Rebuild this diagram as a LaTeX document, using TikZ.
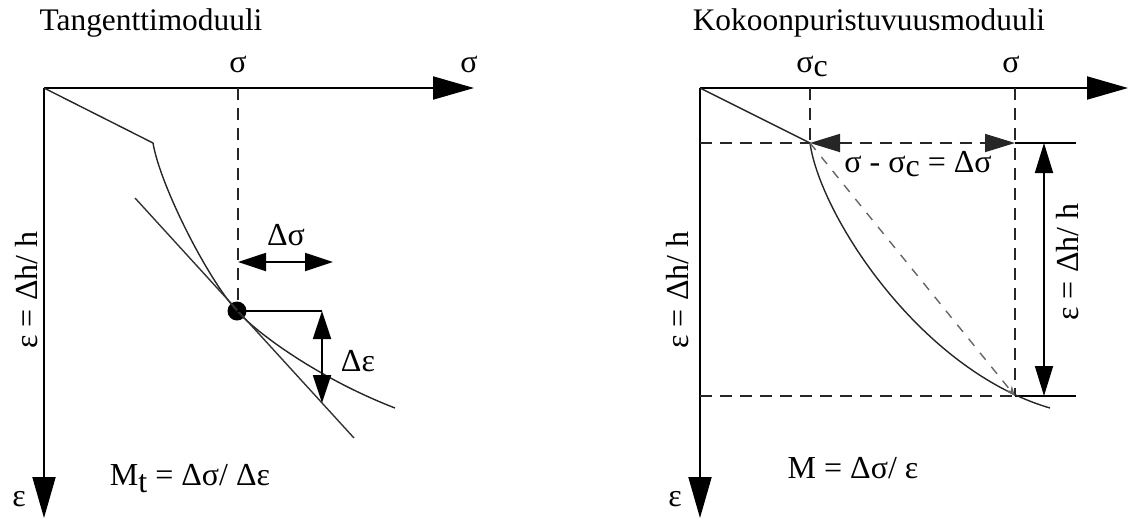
\documentclass[tikz,border=0pt]{standalone}
\usepackage{fontspec}
\setmainfont{Liberation Serif}
\usetikzlibrary{arrows.meta}
\begin{document}
\begin{tikzpicture}[x=0.5pt,y=-0.5pt,
  lbl/.style={font=\fontsize{16}{19}\selectfont, inner sep=0pt, anchor=base},
  rlbl/.style={font=\fontsize{16}{19}\selectfont, inner sep=0pt, rotate=90},
  ttl/.style={font=\fontsize{15.7}{19}\selectfont, inner sep=0pt, anchor=base},
  axisline/.style={line width=1pt, draw=black, -{Triangle[length=20.5pt,width=11.5pt]}},
  dblarrow/.style={line width=0.9pt, draw=black, {Triangle[length=14pt,width=9pt]}-{Triangle[length=14pt,width=9pt]}},
  dashline/.style={line width=0.9pt, draw=black!85, dash pattern=on 6pt off 4pt},
  greydash/.style={line width=0.7pt, draw=black!60, dash pattern=on 4.5pt off 4.5pt, -{Stealth[length=5pt,width=4pt,open]}},
  thinline/.style={line width=0.7pt, draw=black!85},
  tanline/.style={line width=0.7pt, draw=black!80},
  solidline/.style={line width=0.9pt, draw=black},
  dotstyle/.style={circle, fill=black, inner sep=0pt, minimum size=9.5pt}
]
\useasboundingbox (0,0) rectangle (1130,520);

% ================= Left: Tangenttimoduuli =================
\node[ttl] (title1) at (151,30) {Tangenttimoduuli};

\coordinate (O1) at (44,88);
\coordinate (X1) at (474,88);
\coordinate (Y1) at (44,518);
\coordinate (K1) at (153,143);
\coordinate (E1) at (395,408);
\coordinate (T1a) at (135,198);
\coordinate (T1b) at (354,438);
\coordinate (S1top) at (238,88);
\coordinate (DSa) at (238,262);
\coordinate (DSb) at (333,262);
\coordinate (C1) at (322,311);
\coordinate (D1) at (322,403);

\draw[axisline] (O1) -- (X1);
\draw[axisline] (O1) -- (Y1);

\node[lbl] (sigAx1) at (469,72) {σ};
\node[lbl] (sig1) at (238,72) {σ};
\node[lbl] (eps1) at (19,506) {ε};
\node[rlbl] (lab1) at (27,290) {ε = Δh/ h};

% dashed vertical to point
\node[dotstyle] (P) at (237,311) {};
\draw[dashline] (S1top) -- (238,303);

% curve
\draw[thinline, line join=round] (O1) -- (K1)
  .. controls (160,185) and (207,278) .. (P.center)
  .. controls (262,338) and (325,381) .. (E1);
% tangent
\draw[tanline] (T1a) -- (T1b);

% delta sigma arrow
\draw[dblarrow] (DSa) -- (DSb);
\node[lbl] (dsig1) at (286,245) {Δσ};

% delta epsilon
\draw[solidline] (P.center) -- (C1);
\draw[dblarrow] (C1) -- (D1);
\node[lbl] (deps1) at (358,371) {Δε};

\node[lbl] (form1) at (190,485) {M\raisebox{-0.22em}{t} = Δσ/ Δε};

% ================= Right: Kokoonpuristuvuusmoduuli =================
\node[ttl] (title2) at (869,30) {Kokoonpuristuvuusmoduuli};

\coordinate (O2) at (700,88);
\coordinate (X2) at (1128,88);
\coordinate (Y2) at (700,518);
\coordinate (Sc) at (810,143);
\coordinate (ScTop) at (810,88);
\coordinate (Sg) at (1015,143);
\coordinate (SgTop) at (1015,88);
\coordinate (Sb) at (1015,396);
\coordinate (L1) at (700,143);
\coordinate (L2) at (700,396);
\coordinate (R1) at (1076,143);
\coordinate (R2) at (1076,396);
\coordinate (V1) at (1044,143);
\coordinate (V2) at (1044,396);
\coordinate (E2) at (1050,408);

\draw[axisline] (O2) -- (X2);
\draw[axisline] (O2) -- (Y2);

\node[lbl] (sigc) at (812,72) {σ\raisebox{-0.15em}{c}};
\node[lbl] (sig2) at (1011,72) {σ};
\node[lbl] (eps2) at (675,506) {ε};
\node[rlbl] (lab2) at (678,290) {ε = Δh/ h};
\node[rlbl] (lab3) at (1068,262) {ε = Δh/ h};

% dashed guide lines
\draw[dashline] (ScTop) -- (Sc);
\draw[dashline] (SgTop) -- (Sb);
\draw[dashline] (L1) -- (Sc);
\draw[dashline] (L2) -- (Sb);
\draw[solidline] (Sg) -- (R1);
\draw[solidline] (Sb) -- (R2);

% delta sigma arrow on the dashed line
\draw[dashline, {Triangle[length=15pt,width=9pt]}-{Triangle[length=15pt,width=9pt]}] (Sc) -- (Sg);
\node[lbl] (dsig2) at (918,172) {σ - σ\raisebox{-0.15em}{c} = Δσ};

% vertical double arrow
\draw[line width=0.9pt, {Triangle[length=15pt,width=9pt]}-{Triangle[length=15pt,width=9pt]}] (V1) -- (V2);

% curve
\draw[thinline, line join=round] (O2) -- (Sc)
  .. controls (820,215) and (920,370) .. (E2);
% secant
\draw[greydash] (Sc) -- (Sb);

\node[lbl] (form2) at (853,478) {M = Δσ/ ε};

\end{tikzpicture}
\end{document}
